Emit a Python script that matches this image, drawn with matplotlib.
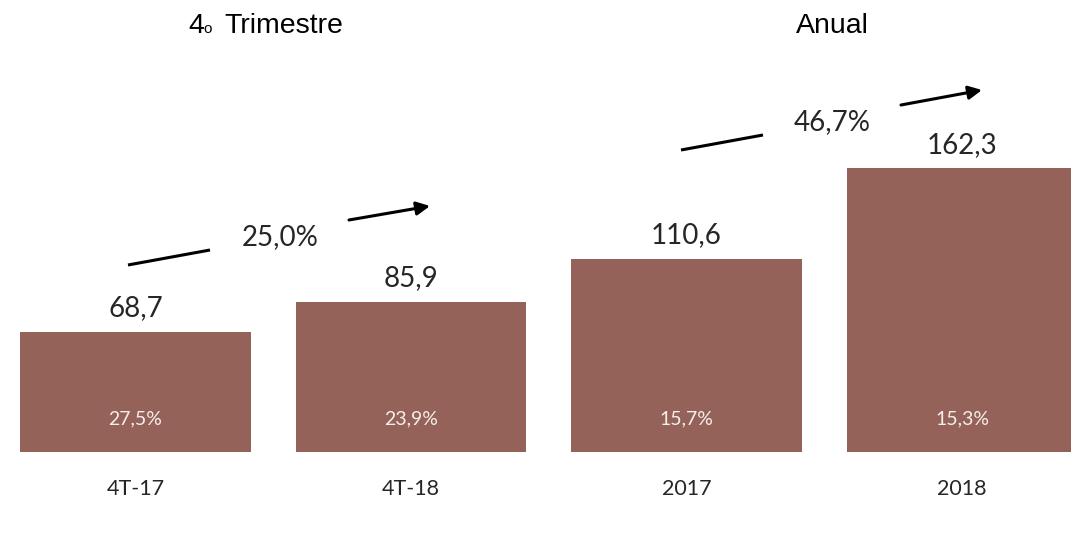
import matplotlib
matplotlib.use("Agg")
import matplotlib.pyplot as plt

# ---------- data ----------
categories = ['4T-17', '4T-18', '2017', '2018']
values = [68.7, 85.9, 110.6, 162.3]
value_labels = ['68,7', '85,9', '110,6', '162,3']
margin_labels = ['27,5%', '23,9%', '15,7%', '15,3%']
growth_labels = ['25,0%', '46,7%']

BAR_COLOR = '#956259'
NUM_FONT = 'Lato'
W, H = 1071, 553

fig = plt.figure(figsize=(W / 100, H / 100), dpi=100)
ax = fig.add_axes([0, 0, 1, 1])
# axes spans the whole canvas: bar pitch 275.5 px, 1.747 px per unit
ax.set_xlim(-135.5 / 275.5, (W - 135.5) / 275.5)
ax.set_ylim(-(H - 452) / 1.747, 452 / 1.747)
ax.axis('off')

def px(xp, yp):
    # pixel position -> data coords (layout helper)
    return (xp - 135.5) / 275.5, (452 - yp) / 1.747

x = list(range(len(categories)))
ax.bar(x, values, width=0.838, color=BAR_COLOR)

for xi, v, vl, ml, cat in zip(x, values, value_labels, margin_labels, categories):
    ax.text(xi, v + 13.5, vl, ha='center', va='center', fontsize=20,
            family=NUM_FONT, color='#262626')
    ax.text(xi, 19, ml, ha='center', va='center', fontsize=14,
            family=NUM_FONT, color='#f5eeeb')
    ax.text(xi, -21.2, cat, ha='center', va='center', fontsize=15.5,
            family=NUM_FONT, color='#262626')

# growth arrows: left segment, label, right segment with head (pixel layout)
arrow_layout = [
    ((128, 265), (210, 250), (280, 237), (349, 220), (430, 206)),
    ((681, 150), (763, 135), (832, 122), (901, 105), (982, 90)),
]
for gl, (a0, a1, tc, b0, b1) in zip(growth_labels, arrow_layout):
    p0, p1, pt, q0, q1 = [px(*p) for p in (a0, a1, tc, b0, b1)]
    ax.plot([p0[0], p1[0]], [p0[1], p1[1]], color='black', lw=2.2,
            solid_capstyle='butt')
    ax.annotate('', xy=q1, xytext=q0,
                arrowprops=dict(arrowstyle='-|>', color='black', lw=2.2,
                                mutation_scale=20, shrinkA=0, shrinkB=0))
    ax.text(pt[0], pt[1], gl, ha='center', va='center', fontsize=20,
            family=NUM_FONT, color='#262626')

# group titles ("4" + small ordinal o + "Trimestre")
ty = 1 - 26 / H
fig.text(196 / W, ty, '4', ha='center', va='center', fontsize=20.5,
         family='Liberation Sans', color='black')
fig.text(208 / W, 1 - 29 / H, 'o', ha='center', va='center', fontsize=11,
         family='Liberation Sans', color='black')
fig.text(283.5 / W, ty, 'Trimestre', ha='center', va='center', fontsize=20.5,
         family='Liberation Sans', color='black')
fig.text(832 / W, ty, 'Anual', ha='center', va='center', fontsize=20.5,
         family='Liberation Sans', color='black')

fig.savefig('out.png', dpi=100, facecolor='white')
